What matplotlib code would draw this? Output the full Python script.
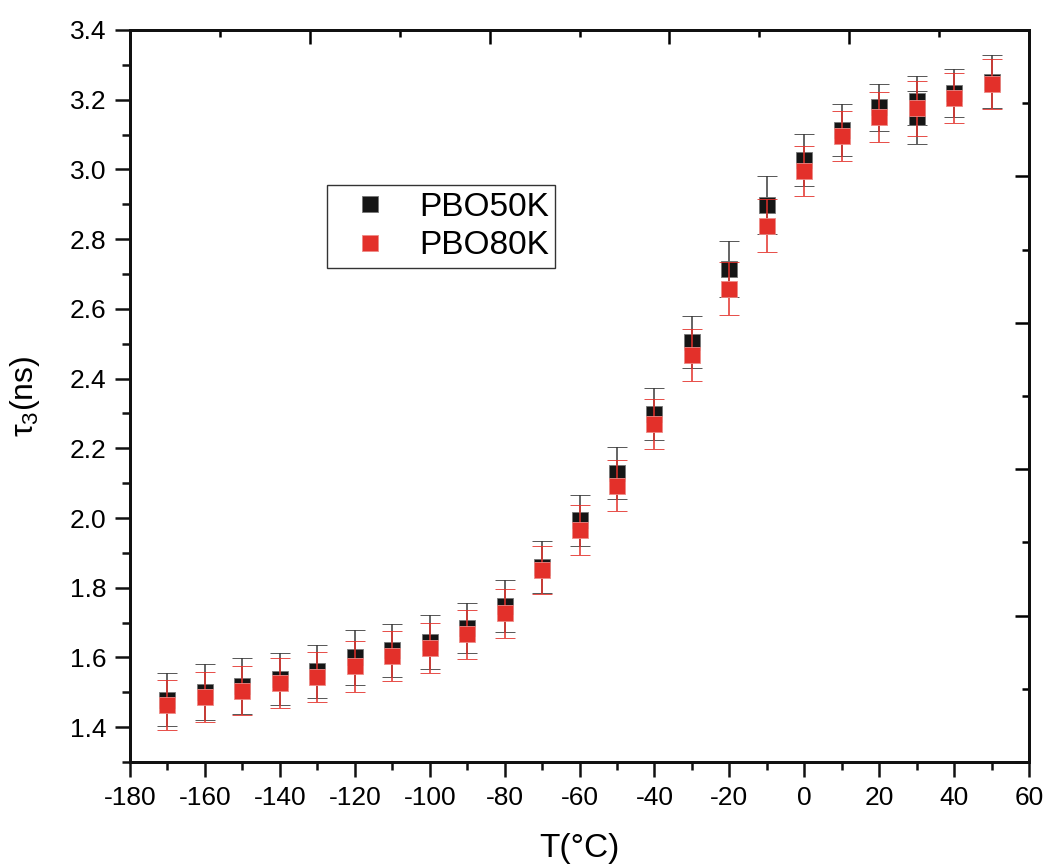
import numpy as np
import matplotlib
matplotlib.use("Agg")
import matplotlib.pyplot as plt
from matplotlib.lines import Line2D
from matplotlib.ticker import MultipleLocator, FormatStrFormatter

plt.rcParams['font.family'] = ['Liberation Sans', 'DejaVu Sans']
plt.rcParams['mathtext.fontset'] = 'custom'
plt.rcParams['mathtext.rm'] = 'Liberation Sans'
plt.rcParams['mathtext.it'] = 'Liberation Sans'
plt.rcParams['axes.unicode_minus'] = False

# Temperaturas (°C) y tiempos de vida tau3 (ns)
temp_50k = [-170, -160, -150, -140, -130, -120, -110, -100, -90, -80, -70, -60,
            -50, -40, -30, -20, -10, 0, 10, 20, 30, 30, 40, 50]
tau_50k = [1.478, 1.501, 1.518, 1.539, 1.560, 1.600, 1.620, 1.645, 1.685, 1.748,
           1.860, 1.993, 2.130, 2.298, 2.505, 2.715, 2.898, 3.028, 3.113, 3.178,
           3.197, 3.149, 3.219, 3.252]
err_50k = [0.076, 0.080, 0.080, 0.075, 0.075, 0.080, 0.077, 0.077, 0.072, 0.075,
           0.075, 0.073, 0.075, 0.075, 0.075, 0.080, 0.084, 0.075, 0.075, 0.068,
           0.070, 0.075, 0.070, 0.075]

temp_80k = [-170, -160, -150, -140, -130, -120, -110, -100, -90, -80, -70, -60,
            -50, -40, -30, -20, -10, 0, 10, 20, 30, 40, 50]
tau_80k = [1.463, 1.487, 1.505, 1.527, 1.545, 1.574, 1.603, 1.626, 1.666, 1.727,
           1.851, 1.965, 2.093, 2.269, 2.468, 2.658, 2.839, 2.996, 3.097, 3.151,
           3.175, 3.206, 3.246]
err_80k = [0.072, 0.072, 0.070, 0.072, 0.072, 0.073, 0.072, 0.072, 0.070, 0.070,
           0.070, 0.072, 0.072, 0.072, 0.075, 0.077, 0.075, 0.072, 0.072, 0.072,
           0.080, 0.072, 0.072]

negro = '#151515'
rojo = '#E3302A'

fig = plt.figure(figsize=(10.47, 8.67), dpi=100)
ax = fig.add_axes([0.1242, 0.1211, 0.8586, 0.8443])

ax.errorbar(temp_50k, tau_50k, yerr=err_50k, fmt='s', color=negro, ms=11,
            mec='#777777', mew=0.6, ecolor='#3a3a3a', elinewidth=1.1,
            capsize=7, capthick=1.1, zorder=3)
ax.errorbar(temp_80k, tau_80k, yerr=err_80k, fmt='s', color=rojo, ms=11,
            mec='#EE8A86', mew=0.6, ecolor=rojo, elinewidth=1.1,
            capsize=7, capthick=1.1, zorder=4)

ax.set_xlim(-180, 60)
ax.set_ylim(1.3, 3.4)
ax.xaxis.set_major_locator(MultipleLocator(20))
ax.xaxis.set_minor_locator(MultipleLocator(10))
ax.yaxis.set_major_locator(MultipleLocator(0.2))
ax.yaxis.set_minor_locator(MultipleLocator(0.1))
ax.yaxis.set_major_formatter(FormatStrFormatter('%.1f'))
ax.tick_params(which='major', direction='out', length=11, width=1.8,
               labelsize=19, pad=6, color='#111111')
ax.tick_params(which='minor', direction='out', length=6, width=1.8, color='#111111')
ax.tick_params(top=False, right=False)
for s in ax.spines.values():
    s.set_linewidth(2.0)
    s.set_color('#111111')

ax.set_xlabel('T(°C)', fontsize=24, labelpad=17)
ax.set_ylabel(r'$\mathrm{\tau}_3$(ns)', fontsize=23, labelpad=20)

# ejes superior y derecho con sus propias divisiones
axt = ax.twiny()
axt.set_xlim(0, 5)
axt.xaxis.set_major_locator(MultipleLocator(1))
axt.xaxis.set_minor_locator(MultipleLocator(0.5))
axt.tick_params(which='major', direction='in', length=10, width=1.8, labeltop=False)
axt.tick_params(which='minor', direction='in', length=5, width=1.8)
axr = ax.twinx()
axr.set_ylim(0, 5)
axr.yaxis.set_major_locator(MultipleLocator(1))
axr.yaxis.set_minor_locator(MultipleLocator(0.5))
axr.tick_params(which='major', direction='in', length=10, width=1.8, labelright=False)
axr.tick_params(which='minor', direction='in', length=5, width=1.8)
for a in (axt, axr):
    for s in a.spines.values():
        s.set_linewidth(2.0)
        s.set_color('#111111')

handles = [Line2D([], [], ls='none', marker='s', ms=11, color=negro, mec='#777777', mew=0.6),
           Line2D([], [], ls='none', marker='s', ms=11, color=rojo, mec='#EE8A86', mew=0.6)]
leg = axr.legend(handles, ['PBO50K', 'PBO80K'], loc='upper left',
                 bbox_to_anchor=(0.219, 0.788), bbox_transform=ax.transAxes,
                 borderaxespad=0, fontsize=24, fancybox=False, framealpha=1,
                 edgecolor='#333333', handlelength=2.2, handletextpad=0.36,
                 borderpad=0.2, labelspacing=0.22)
leg.get_frame().set_linewidth(1.0)

fig.savefig('out.png', dpi=100)
